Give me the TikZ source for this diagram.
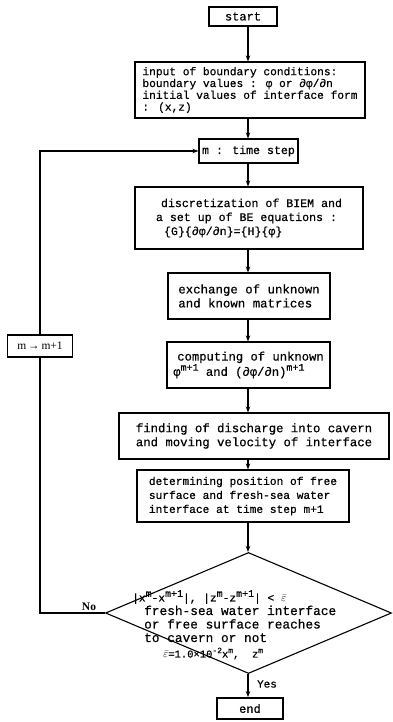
\documentclass[tikz,border=0pt]{standalone}
\usepackage{fontspec}
\setmainfont{Liberation Serif}
\newfontfamily\tw{Liberation Mono}[FakeBold=0.5]
\usetikzlibrary{shapes.geometric,arrows.meta}
\newcommand{\sups}[1]{\raisebox{0.42em}{\fontsize{10}{10}\selectfont #1}}
\newcommand{\smsup}[1]{\raisebox{0.42em}{\fontsize{8}{8}\selectfont #1}}
\newcommand{\tws}[1]{\tw\fontsize{#1}{14}\selectfont}
\tikzset{
  box/.style={draw, line width=1.1pt, font=\tws{12}, align=left, inner sep=0pt},
  term/.style={box, line width=1.8pt, align=center},
  arr/.style={line width=1.2pt, -{Stealth[length=6pt,width=4.5pt]}},
  ln/.style={line width=1.2pt},
  lbl/.style={inner sep=0pt}
}
\begin{document}
\begin{tikzpicture}[x=1pt,y=-1pt]
\useasboundingbox (0,0) rectangle (393,722);
\coordinate (ax) at (248,0);
\node[term, minimum width=68pt, minimum height=19pt] (start) at (243,16.5) {start};
\node[box, minimum width=230pt, minimum height=56pt, font=\tw\fontsize{11.2}{11.8}\selectfont] (input) at (250,90)
  {input of boundary conditions:\\boundary values : φ or ∂φ/∂n\\initial values of interface form\\: (x,z)};
\node[box, minimum width=99pt, minimum height=24pt, font=\tws{11.6}] (mstep) at (248.5,151) {m : time step};
\node[box, minimum width=228pt, minimum height=62pt, font=\tws{11.6}] (disc) at (249,218)
  {\hspace*{5pt}discretization of BIEM and\\a set up of BE equations :\\\hspace*{8pt}\{G\}\{∂φ/∂n\}=\{H\}\{φ\}};
\node[box, minimum width=162pt, minimum height=46pt, font=\tws{12.4}] (exch) at (249,296)
  {exchange of unknown\\and known matrices};
\node[box, minimum width=163pt, minimum height=46pt, font=\tws{12.2}] (comp) at (248.5,365)
  {\hspace*{4pt}computing of unknown\\φ\sups{m+1} and (∂φ/∂n)\sups{m+1}};
\node[box, minimum width=270pt, minimum height=46pt, font=\tws{12.3}] (find) at (254,436)
  {finding of discharge into cavern\\and moving velocity of interface};
\node[box, minimum width=212pt, minimum height=52pt, font=\tws{11.2}] (det) at (243,496)
  {determining position of free\\surface and fresh-sea water\\interface at time step m+1};
\node[draw, diamond, minimum width=286pt, minimum height=121pt, inner sep=0pt, line width=1.1pt] (dia) at (248.5,613) {};
\node[lbl, anchor=north west, align=left, font=\tw\fontsize{12.8}{13.5}\selectfont] (dtext) at (132,590)
  {{\fontsize{11.2}{13.5}\selectfont |x\sups{m}-x\sups{m+1}|, |z\sups{m}-z\sups{m+1}| < $\bar{\varepsilon}$}\\
   \hspace*{12pt}fresh-sea water interface\\
   \hspace*{12pt}or free surface reaches\\
   \hspace*{12pt}to cavern or not\\[2pt]
   \hspace*{31pt}{\fontsize{10.5}{10}\selectfont $\bar{\varepsilon}$=1.0×10\smsup{-2}x\smsup{m},\ \ z\smsup{m}}};
\node[term, minimum width=66pt, minimum height=21pt] (end) at (250,708.5) {end};
\node[draw, line width=1.1pt, minimum width=65pt, minimum height=22pt, inner sep=0pt, font=\fontsize{11.5}{12}\selectfont] (mm1) at (40,346) {m\,→\,m+1};
\node[lbl, font=\fontsize{11.5}{12}\selectfont\bfseries] (no) at (89,607) {No};
\node[lbl, font=\tw\fontsize{11}{12}\selectfont] (yes) at (267,684) {Yes};
\draw[arr] (start.south -| ax) -- (input.north -| ax);
\draw[arr] (input.south -| ax) -- (mstep.north -| ax);
\draw[arr] (mstep.south -| ax) -- (disc.north -| ax);
\draw[arr] (disc.south -| ax) -- (exch.north -| ax);
\draw[arr] (exch.south -| ax) -- (comp.north -| ax);
\draw[arr] (comp.south -| ax) -- (find.north -| ax);
\draw[arr] (find.south -| ax) -- (det.north -| ax);
\draw[arr] (det.south -| ax) -- (dia.north -| ax);
\draw[arr] (dia.south -| ax) -- (end.north -| ax);
\draw[ln] (dia.west) -- (dia.west -| mm1) -- (mm1.south);
\draw[arr] (mm1.north) -- (mm1.north |- mstep.west) -- (mstep.west);
\end{tikzpicture}
\end{document}
